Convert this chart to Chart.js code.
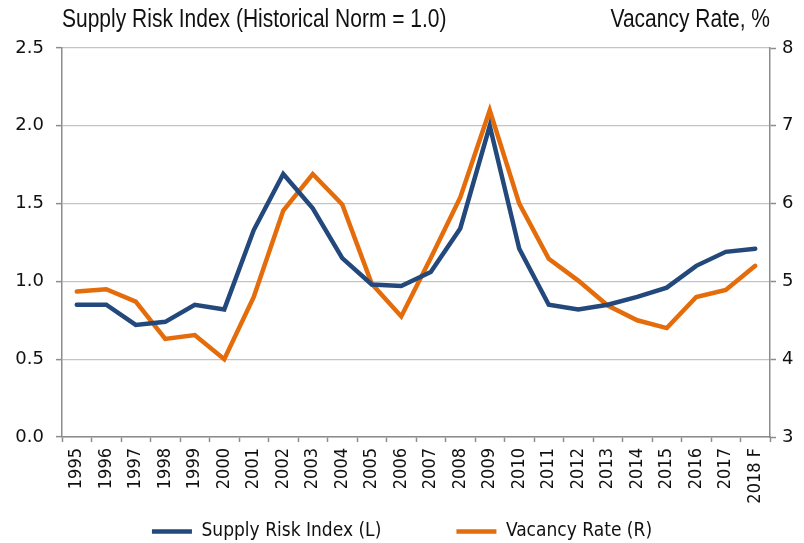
<!DOCTYPE html>
<html>
<head>
<meta charset="utf-8">
<script src="https://cdn.jsdelivr.net/npm/chart.js@4/dist/chart.umd.min.js"></script>
<style>
  html, body { margin: 0; padding: 0; background: #fff; }
  #wrap { width: 804px; height: 543px; }
</style>
</head>
<body>
<div id="wrap"><canvas id="chart" width="804" height="543"></canvas></div>
<script>
// ------------------------------------------------------------
// Data
// ------------------------------------------------------------
const years = ['1995', '1996', '1997', '1998', '1999', '2000', '2001', '2002',
  '2003', '2004', '2005', '2006', '2007', '2008', '2009', '2010', '2011',
  '2012', '2013', '2014', '2015', '2016', '2017', '2018 F'];

const supplyRisk = [0.85, 0.85, 0.72, 0.74, 0.85, 0.82, 1.33, 1.69, 1.47, 1.15,
  0.98, 0.97, 1.06, 1.34, 2.00, 1.21, 0.85, 0.82, 0.85, 0.90, 0.96, 1.10, 1.19, 1.21];

const vacancyRate = [4.87, 4.90, 4.74, 4.26, 4.31, 4.00, 4.80, 5.91, 6.38, 5.99,
  4.97, 4.55, 5.30, 6.08, 7.20, 6.00, 5.29, 5.01, 4.69, 4.50, 4.40, 4.80, 4.89, 5.20];

const leftTitle = 'Supply Risk Index (Historical Norm = 1.0)';
const rightTitle = 'Vacancy Rate, %';
const seriesNames = ['Supply Risk Index (L)', 'Vacancy Rate (R)'];

const BLUE = '#23497c';
const ORANGE = '#e46c0a';
const AXIS = '#8c8c8c';
const GRID = '#c4c4c4';
const TEXT = '#111111';
const Y_FONT = { family: '"DejaVu Sans", sans-serif', size: 18 };
const X_FONT = { family: '"DejaVu Sans Condensed", "DejaVu Sans", sans-serif', size: 18 };

// Axis titles sit above the plot, one on each side (drawn a bit tall, like the original)
const axisTitles = {
  id: 'axisTitles',
  afterDraw(chart) {
    const { ctx, chartArea } = chart;
    ctx.save();
    ctx.scale(1, 1.2);
    ctx.font = '21px "Liberation Sans", sans-serif';
    ctx.fillStyle = TEXT;
    ctx.textBaseline = 'alphabetic';
    ctx.textAlign = 'left';
    ctx.fillText(leftTitle, chartArea.left, 22.5);
    ctx.textAlign = 'right';
    ctx.fillText(rightTitle, chartArea.right, 22.5);
    ctx.restore();
  }
};

new Chart(document.getElementById('chart'), {
  type: 'line',
  data: {
    labels: years,
    datasets: [
      {
        label: seriesNames[0],
        data: supplyRisk,
        yAxisID: 'y',
        borderColor: BLUE,
        backgroundColor: BLUE,
        borderWidth: 4.5,
        borderCapStyle: 'round',
        pointRadius: 0,
        tension: 0
      },
      {
        label: seriesNames[1],
        data: vacancyRate,
        yAxisID: 'y1',
        borderColor: ORANGE,
        backgroundColor: ORANGE,
        borderWidth: 4.5,
        borderCapStyle: 'round',
        pointRadius: 0,
        tension: 0
      }
    ]
  },
  options: {
    responsive: false,
    animation: false,
    layout: { padding: { top: 48, left: 0, right: 0, bottom: -8 } },
    scales: {
      x: {
        offset: true,
        afterFit: s => { s.height = 75; },
        grid: {
          offset: true,
          drawOnChartArea: false,
          tickLength: 5,
          tickColor: AXIS,
          tickWidth: 1.5
        },
        border: { color: AXIS, width: 1.5 },
        ticks: {
          autoSkip: false,
          minRotation: 90,
          maxRotation: 90,
          padding: 6,
          color: TEXT,
          font: X_FONT
        }
      },
      y: {
        position: 'left',
        min: 0,
        max: 2.5,
        afterFit: s => { s.width = 62; },
        grid: {
          color: GRID,
          lineWidth: 1.25,
          tickLength: 6,
          tickColor: AXIS,
          tickWidth: 1.5
        },
        border: { color: AXIS, width: 1.5 },
        ticks: {
          stepSize: 0.5,
          padding: 12,
          color: TEXT,
          font: Y_FONT,
          callback: v => v.toFixed(1)
        }
      },
      y1: {
        position: 'right',
        min: 3,
        max: 8,
        afterFit: s => { s.width = 34; },
        grid: {
          drawOnChartArea: false,
          tickLength: 6,
          tickColor: AXIS,
          tickWidth: 1.5
        },
        border: { color: AXIS, width: 1.5 },
        ticks: {
          stepSize: 1,
          padding: 6,
          color: TEXT,
          font: Y_FONT
        }
      }
    },
    plugins: {
      legend: {
        position: 'bottom',
        labels: {
          color: TEXT,
          font: { family: '"DejaVu Sans Condensed", "DejaVu Sans", sans-serif', size: 19 },
          usePointStyle: true,
          pointStyle: 'line',
          pointStyleWidth: 40,
          padding: 10,
          // widen the first entry so the two entries sit apart as in the picture
          generateLabels: chart => Chart.defaults.plugins.legend.labels.generateLabels(chart)
            .map((item, i) => ({ ...item, pointStyle: 'line', text: i === 0 ? item.text + '            ' : item.text }))
        }
      },
      tooltip: { enabled: false }
    }
  },
  plugins: [axisTitles]
});
</script>
</body>
</html>
